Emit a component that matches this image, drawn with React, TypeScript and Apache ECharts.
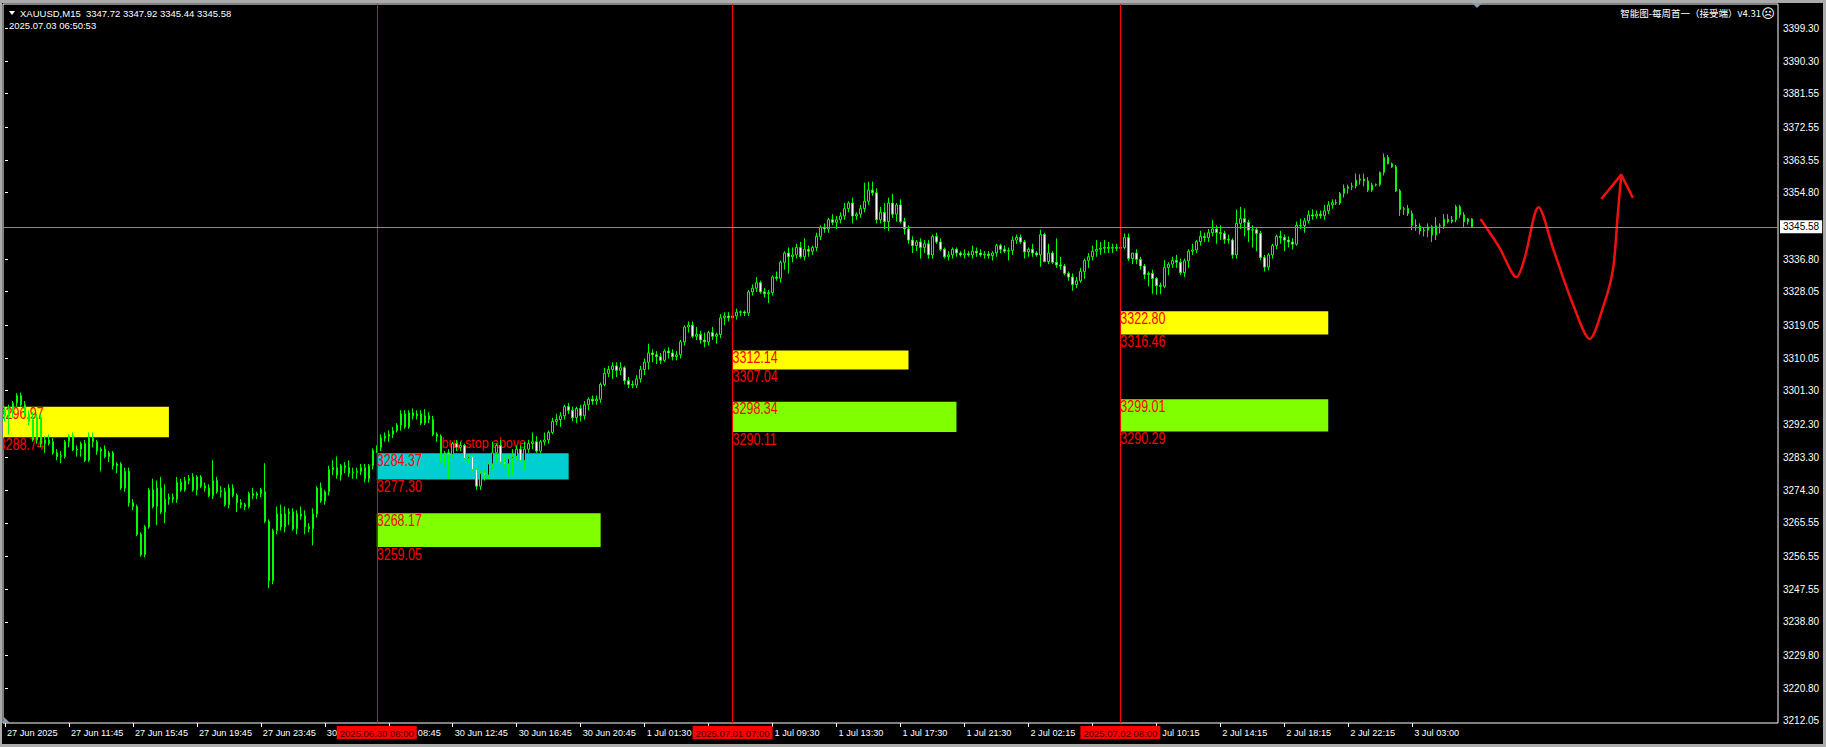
import React, { useEffect, useRef } from 'react';
import * as echarts from 'echarts';

// ---------- data (M15 candles, index 0 = 27 Jun 07:45) ----------
const opens = [
  3296, 3294.5, 3296, 3298, 3300, 3297.5, 3295, 3293.5, 3288, 3294,
  3287, 3288, 3287.5, 3284.5, 3283.5, 3283.5, 3287.5, 3289, 3285.3, 3285.5,
  3287, 3282.5, 3288.5, 3287.5, 3285, 3285.5, 3283.5, 3284.5, 3281, 3281.5,
  3275, 3279.5, 3271, 3270, 3262.5, 3257, 3264.5, 3274.5, 3270, 3275,
  3268.5, 3272, 3272.5, 3272, 3276.5, 3274.5, 3277, 3278, 3274.5, 3278,
  3275.5, 3275, 3273, 3277, 3274, 3274, 3270.5, 3275, 3273, 3271,
  3270.5, 3270, 3273.5, 3273, 3273.5, 3274, 3266, 3250, 3263.5, 3268,
  3264.5, 3268, 3268.5, 3264, 3268, 3267.5, 3264.5, 3264, 3268, 3275,
  3271.5, 3274, 3280, 3280.5, 3278.5, 3281, 3280.5, 3279, 3279.2, 3279.5,
  3280.5, 3277.5, 3281, 3285.2, 3286, 3288.5, 3289, 3289.5, 3290.5, 3292,
  3295, 3291.5, 3295.3, 3294.5, 3295, 3292.5, 3294.5, 3293.5, 3289.5, 3289,
  3282.6, 3284.5, 3284, 3287, 3286, 3286.5, 3283, 3283.5, 3280, 3275.5,
  3279, 3278.5, 3281.5, 3284.5, 3286.5, 3282, 3281.5, 3283, 3283.5, 3285.5,
  3282.5, 3285.5, 3287, 3287.5, 3285, 3287.5, 3288, 3290, 3293, 3293.5,
  3294.5, 3297, 3296, 3294, 3296.5, 3294.5, 3297.5, 3299, 3298.5, 3299,
  3303, 3306, 3307, 3308, 3306.8, 3307.5, 3304, 3303, 3302.8, 3304.5,
  3307, 3309, 3311.5, 3311, 3310.5, 3309.5, 3312, 3311.5, 3310.5, 3311,
  3314.5, 3318.5, 3319, 3316, 3316.5, 3315, 3314.5, 3317, 3316, 3316.5,
  3321, 3321.5, 3321, 3321.5, 3322.5, 3322.6, 3322.3, 3328, 3329, 3330.5,
  3328, 3327.5, 3327.8, 3332, 3331.7, 3336, 3338.5, 3337.5, 3338, 3340,
  3337.5, 3339.5, 3339, 3340, 3343, 3345.5, 3345, 3347.5, 3346.8, 3347.5,
  3348.5, 3350.5, 3352, 3348.5, 3349, 3350.5, 3352.5, 3355.5, 3354.8, 3347.5,
  3349.5, 3347, 3352, 3349, 3351.5, 3347, 3345, 3342, 3340.5, 3341.5,
  3340, 3341, 3338, 3343, 3341.5, 3339.5, 3337.5, 3338, 3339.5, 3338.5,
  3338, 3338.3, 3338, 3339, 3338.5, 3338, 3338.2, 3337.8, 3338.5, 3340.5,
  3339.5, 3339, 3339.2, 3342, 3342.7, 3341.5, 3338.8, 3339.5, 3338.5, 3338,
  3343.5, 3336.2, 3338.5, 3336, 3335.3, 3335, 3333, 3332, 3330, 3331,
  3333.5, 3336.5, 3337.5, 3339, 3339.5, 3339.8, 3340, 3339.8, 3340, 3339.8,
  3340, 3342.7, 3337, 3338.5, 3336.8, 3335, 3332.7, 3333, 3331.6, 3329.7,
  3329.5, 3334.6, 3335.5, 3336.5, 3336, 3333.2, 3336.4, 3339, 3339.3, 3341.6,
  3343, 3342.7, 3344, 3345, 3344, 3343.8, 3342.2, 3342, 3338, 3346.5,
  3347.8, 3346.8, 3344.7, 3344.8, 3343.8, 3337.3, 3334.7, 3338, 3340.5, 3343,
  3342.7, 3342, 3341.5, 3340.9, 3346, 3345.9, 3347.2, 3348.8, 3348.5, 3349,
  3348.6, 3349.9, 3351.5, 3352.1, 3352, 3354.6, 3356, 3356.4, 3356.6, 3358.2,
  3358.5, 3358, 3355.5, 3356.9, 3357, 3360.3, 3364.3, 3362.6, 3361.8, 3355.3,
  3350.3, 3350.5, 3349.2, 3346, 3345.8, 3344.5, 3344.7, 3345.6, 3343.4, 3345.9,
  3345.8, 3347.6, 3347, 3347.5, 3351, 3348.8, 3347, 3347.72,
];
const highs = [
  3297, 3297.5, 3298.5, 3300.6, 3300.8, 3298.5, 3296, 3295.5, 3295, 3295,
  3289, 3289.5, 3288.5, 3285.5, 3285, 3288, 3289.5, 3290, 3286.5, 3287.5,
  3288, 3290, 3290, 3288, 3286, 3286.5, 3285, 3285, 3282, 3282,
  3280.5, 3280.5, 3272, 3270.5, 3263, 3265, 3275, 3277.5, 3277, 3278,
  3276, 3273.5, 3273.5, 3278, 3277.5, 3278, 3278.5, 3279, 3278.5, 3278.5,
  3276.5, 3276, 3282.5, 3278, 3275.5, 3275, 3276, 3276, 3273.5, 3272,
  3271, 3274, 3275, 3274, 3275, 3281.7, 3266.5, 3264, 3270, 3270.5,
  3270, 3269.5, 3269.5, 3269, 3270, 3269, 3265.5, 3269.5, 3275.5, 3276.5,
  3274.5, 3281, 3282.5, 3283.5, 3281.5, 3282, 3282.5, 3280.5, 3280.5, 3281.5,
  3281.5, 3281.5, 3285.7, 3286.5, 3289.5, 3290, 3290.5, 3291.5, 3292.5, 3296,
  3296, 3296, 3296.5, 3296, 3296, 3296.3, 3295.5, 3294.5, 3290, 3289.5,
  3285, 3285.5, 3287.5, 3288, 3287.5, 3287, 3284, 3284, 3280.5, 3279.5,
  3280, 3282, 3287.5, 3287, 3288, 3283.5, 3284, 3285.5, 3286.5, 3286.5,
  3287.5, 3288, 3290, 3289, 3288, 3290, 3290.5, 3294, 3295, 3295.5,
  3297.5, 3298, 3297, 3297, 3297.5, 3298.5, 3299.5, 3300, 3300, 3303.5,
  3307.5, 3308, 3309, 3309, 3309, 3308, 3305, 3304, 3305.5, 3308,
  3310, 3314, 3312.5, 3312, 3311.5, 3312.5, 3313, 3312.5, 3312, 3315,
  3319, 3320, 3320, 3318.5, 3317.5, 3317, 3317.5, 3318.5, 3317, 3322,
  3322.5, 3322.5, 3322, 3323.5, 3323, 3323, 3328.5, 3330, 3332, 3331,
  3329, 3328.5, 3332.5, 3333.5, 3336.5, 3339, 3340, 3340, 3341, 3341.5,
  3342.5, 3340.5, 3340.5, 3344, 3346, 3346.5, 3348, 3349, 3348.5, 3349.5,
  3352, 3352.5, 3353.5, 3349.5, 3351.5, 3357.5, 3357.8, 3357.8, 3356, 3351,
  3352, 3353.5, 3354.5, 3352, 3353, 3348, 3346, 3343, 3342, 3342.5,
  3342, 3342, 3343.5, 3344, 3342.5, 3340, 3339, 3340, 3340, 3339,
  3339.5, 3339, 3340.5, 3340, 3339.5, 3339, 3339, 3339, 3341, 3341,
  3340.5, 3340, 3343, 3343.5, 3343.5, 3342, 3340, 3341, 3339, 3344.8,
  3344, 3341, 3339, 3342.5, 3337.5, 3335.5, 3333.5, 3333, 3332, 3334.5,
  3337, 3338.5, 3340.5, 3342, 3341.5, 3342, 3341.5, 3341, 3341, 3340.5,
  3343.8, 3343.8, 3338.5, 3339.5, 3337.5, 3335.5, 3333.5, 3334, 3332, 3330.5,
  3336.6, 3336, 3337.5, 3338, 3337, 3337, 3339.5, 3341, 3342, 3344.5,
  3344, 3345, 3347.5, 3346, 3346, 3344.5, 3343.5, 3342.5, 3350.3, 3351,
  3350.5, 3347.5, 3346, 3345.5, 3344.5, 3338, 3338.5, 3341, 3343.5, 3344.5,
  3343.5, 3343, 3342.5, 3347, 3347.8, 3348, 3350, 3350.3, 3350, 3350,
  3351.5, 3352.5, 3353, 3353, 3355, 3357, 3357, 3357.5, 3360, 3359.8,
  3360, 3359, 3357.5, 3357.3, 3360.5, 3365.4, 3365, 3363, 3362.3, 3355.8,
  3351, 3351.5, 3350, 3347.6, 3346.5, 3345.5, 3346.5, 3346, 3348.2, 3346.5,
  3349, 3349, 3348.5, 3351.5, 3351.5, 3349.5, 3348, 3347.92,
];
const lows = [
  3293, 3289.5, 3294, 3297, 3297, 3294.5, 3292, 3287.5, 3287, 3286,
  3284.5, 3286.5, 3284, 3282.5, 3281.7, 3283, 3286, 3285, 3283.5, 3283.5,
  3282, 3282, 3286, 3284, 3279.5, 3283, 3282, 3280, 3279, 3274.5,
  3274, 3270, 3269, 3262, 3256.5, 3256.3, 3264, 3269.5, 3265, 3268,
  3265.5, 3270.5, 3271, 3271, 3274, 3274, 3276, 3274, 3273, 3275,
  3274, 3272.5, 3272, 3273.5, 3272.5, 3270, 3269.5, 3272.5, 3268.5, 3269.5,
  3269, 3269.5, 3272, 3272, 3272.5, 3265.5, 3247.9, 3249, 3262.5, 3263.5,
  3263, 3265, 3263.5, 3262.5, 3266.5, 3262.5, 3263, 3259.5, 3267, 3271,
  3270.5, 3273, 3278.5, 3277.5, 3277, 3279, 3278, 3277.5, 3277.5, 3278.5,
  3276.5, 3276.5, 3280, 3284.5, 3285, 3287.5, 3287.5, 3288.5, 3290, 3290.5,
  3291, 3291, 3293.5, 3293.5, 3292, 3292, 3292.5, 3289, 3287.5, 3282,
  3281, 3277.5, 3283, 3285, 3285, 3282.5, 3281.5, 3279.5, 3274.5, 3274.5,
  3277, 3277.5, 3280, 3282, 3281.5, 3280.5, 3278, 3278.5, 3282.5, 3282,
  3280, 3284.5, 3285.5, 3284.5, 3284.5, 3286.5, 3287, 3289.5, 3292, 3291.5,
  3293.5, 3295, 3293, 3292.5, 3293, 3293.5, 3296, 3297.5, 3297.5, 3298,
  3302.5, 3305, 3304.5, 3305, 3305.5, 3303, 3302, 3302, 3302, 3303.5,
  3305.5, 3307, 3309, 3308.5, 3308.5, 3309, 3310, 3309.5, 3309.5, 3310,
  3313.5, 3317, 3315.5, 3315, 3314, 3313, 3313.5, 3315, 3314, 3315.5,
  3319, 3320, 3320, 3320.5, 3321.5, 3321.5, 3321.5, 3327, 3328, 3327.5,
  3326.5, 3325, 3327, 3331, 3330.5, 3334, 3333, 3336, 3337, 3337,
  3336.5, 3337.5, 3338, 3339, 3342, 3344, 3344, 3346, 3345, 3346.5,
  3347.5, 3349.5, 3346.5, 3347.5, 3348, 3349.5, 3351.5, 3354, 3346.5, 3346.5,
  3345, 3344.5, 3348, 3347, 3346.5, 3343.5, 3341, 3338.5, 3339, 3337,
  3338.5, 3337, 3337, 3341, 3339, 3337, 3336.5, 3337, 3337.5, 3337.5,
  3337, 3337.5, 3337, 3337.5, 3337.5, 3337, 3337, 3336.5, 3337.5, 3338.5,
  3338.5, 3336.5, 3338, 3341, 3341, 3337, 3337.5, 3337.5, 3337.5, 3334.8,
  3336, 3335.5, 3335.5, 3334.5, 3334, 3332.5, 3331, 3328.3, 3329, 3330.5,
  3331.5, 3334.5, 3336.5, 3337.5, 3338, 3338.5, 3338.5, 3338.5, 3339, 3339,
  3339.5, 3336.4, 3335.5, 3335.5, 3334, 3331.5, 3329.5, 3327.5, 3327.2, 3327.4,
  3329, 3332.5, 3334.5, 3334.5, 3332.5, 3332, 3334.5, 3338, 3338.5, 3340.5,
  3341.5, 3341.5, 3343, 3341, 3342, 3341, 3341, 3337, 3337, 3345,
  3343, 3341.5, 3340, 3339, 3336.5, 3333.5, 3333.8, 3337, 3339.5, 3341,
  3339, 3340, 3339.5, 3340.5, 3345, 3344, 3346.5, 3347.5, 3347.8, 3347.8,
  3347.5, 3349, 3350.5, 3351.5, 3351.5, 3353.5, 3354.5, 3355.5, 3356, 3357,
  3356.5, 3355, 3355, 3356.5, 3356.5, 3359.5, 3362.5, 3361.5, 3355, 3348.5,
  3348.8, 3348.5, 3344.7, 3344.5, 3343.5, 3343, 3342.8, 3341.5, 3342, 3343.8,
  3345, 3346.5, 3346.5, 3346.8, 3348, 3345.5, 3346.2, 3345.44,
];
const closes = [
  3294.5, 3296.5, 3298, 3300, 3297.5, 3295, 3293, 3288, 3294, 3287,
  3288, 3287, 3284.5, 3283.5, 3283.8, 3287.5, 3289, 3285.3, 3285.5, 3287,
  3282.5, 3288.5, 3287.5, 3285, 3285.5, 3283.5, 3284.5, 3281, 3281.5, 3275,
  3279.5, 3271, 3270, 3262.5, 3257, 3264.5, 3274.5, 3270, 3275, 3268.5,
  3272, 3272.5, 3272, 3276.5, 3274.5, 3277, 3277.5, 3274.5, 3278, 3275.5,
  3275, 3273, 3277, 3274, 3274.3, 3270.5, 3275, 3273, 3271, 3270.5,
  3270, 3273.5, 3273, 3273.5, 3274.5, 3266, 3250, 3263.5, 3268, 3264.5,
  3268, 3268.5, 3264, 3268, 3267.5, 3264.5, 3264, 3268, 3275, 3271.5,
  3274, 3280, 3280.5, 3278.5, 3281, 3280.5, 3279, 3279.2, 3279.5, 3280.5,
  3277.5, 3281, 3285.2, 3286, 3288.5, 3289, 3289.5, 3290.5, 3292, 3295,
  3291.5, 3295.3, 3294.5, 3295, 3292.5, 3294.5, 3293.5, 3289.5, 3289, 3282.6,
  3284.5, 3284, 3287, 3286, 3286.5, 3283, 3283.5, 3280, 3275.5, 3279,
  3278.5, 3281.5, 3284.5, 3286.5, 3282, 3281.5, 3283, 3283.5, 3285.5, 3282.5,
  3285.5, 3287, 3287.5, 3285, 3287.5, 3288, 3290, 3293, 3293.5, 3294.5,
  3297, 3296, 3294, 3296.5, 3294.5, 3297.5, 3299, 3298.5, 3299, 3303,
  3306, 3307, 3308, 3306.8, 3307.5, 3304, 3303, 3302.8, 3304.5, 3307,
  3309, 3311.5, 3311, 3310.5, 3309.5, 3312, 3311.5, 3310.5, 3311, 3314.5,
  3318.5, 3319, 3316, 3316.5, 3315, 3314.5, 3317, 3316, 3316.5, 3321,
  3321.5, 3321, 3321.5, 3322.5, 3322.6, 3322.3, 3328, 3329, 3330.5, 3328,
  3327.5, 3327.8, 3332, 3331.7, 3336, 3338.5, 3337.5, 3338, 3340, 3337.5,
  3339.5, 3339, 3340, 3343, 3345.5, 3345, 3347.5, 3346.8, 3347.5, 3348.5,
  3350.5, 3352, 3348.5, 3349, 3350.5, 3352.5, 3355.5, 3354.8, 3347.5, 3349.5,
  3347, 3352, 3349, 3351.5, 3347, 3345, 3342, 3340.5, 3341.5, 3340,
  3341, 3338, 3343, 3341.5, 3339.5, 3337.5, 3338, 3339.5, 3338.5, 3338,
  3338.3, 3338, 3339, 3338.5, 3338, 3338.2, 3337.8, 3338.5, 3340.5, 3339.5,
  3339, 3339.2, 3342, 3342.7, 3341.5, 3338.8, 3339.5, 3338.5, 3338, 3343.5,
  3336.2, 3338.5, 3336, 3335.3, 3335, 3333, 3332, 3330, 3331, 3333.5,
  3336.5, 3337.5, 3339, 3339.5, 3339.8, 3340, 3339.8, 3340, 3339.8, 3340,
  3342.7, 3337, 3338.5, 3336.8, 3335, 3332.7, 3333, 3331.6, 3329.7, 3329.5,
  3334.6, 3335.5, 3336.5, 3336, 3333.2, 3336.4, 3339, 3339.3, 3341.6, 3343,
  3342.7, 3344, 3345, 3344, 3343.8, 3342.2, 3342, 3338, 3346.5, 3347.8,
  3346.8, 3344.7, 3344.8, 3343.8, 3337.3, 3334.7, 3338, 3340.5, 3343, 3342.7,
  3342, 3341.5, 3340.9, 3346, 3345.9, 3347.2, 3348.8, 3348.5, 3349, 3348.6,
  3349.9, 3351.5, 3352.1, 3352, 3354.6, 3356, 3356.4, 3356.6, 3358.2, 3358.5,
  3358, 3355.5, 3356.9, 3357, 3360.3, 3364.3, 3362.6, 3361.8, 3355.3, 3350.3,
  3350.5, 3349.2, 3346, 3345.8, 3344.5, 3344.7, 3345.6, 3343.4, 3345.9, 3345.8,
  3347.6, 3347, 3347.5, 3351, 3348.8, 3347, 3347.72, 3345.58,
];

// tick labels every 16 bars, as visible beside the red time markers ('' = fully covered)
const xTickLabels = [
  '27 Jun 2025', '27 Jun 11:45', '27 Jun 15:45', '27 Jun 19:45', '27 Jun 23:45',
  '30', '08:45', '30 Jun 12:45', '30 Jun 16:45', '30 Jun 20:45',
  '1 Jul 01:30', '', '1 Jul 09:30', '1 Jul 13:30', '1 Jul 17:30',
  '1 Jul 21:30', '2 Jul 02:15', '', 'Jul 10:15', '2 Jul 14:15',
  '2 Jul 18:15', '2 Jul 22:15', '3 Jul 03:00',
];
// extra left offset (px) of the partly covered labels
const xTickShift = [0, 0, 0, 0, 0, 0, 27, 0, 0, 0, 0, 0, 0, 0, 0, 0, 0, 0, 4, 0, 0, 0, 0];
const yTickValues = [
  3212.05, 3220.8, 3229.8, 3238.8, 3247.55, 3256.55, 3265.55, 3274.3, 3283.3,
  3292.3, 3301.3, 3310.05, 3319.05, 3328.05, 3336.8, 3354.8, 3363.55, 3372.55,
  3381.55, 3390.3, 3399.3,
];
const currentPrice = 3345.58;

const zoneX1 = [-1.6, 93, 93, 182, 182, 279, 279];
const zoneX2 = [41, 141, 149, 226, 238, 331, 331];
const zoneTop = [3296.97, 3284.37, 3268.17, 3312.14, 3298.34, 3322.8, 3299.01];
const zoneBottom = [3288.74, 3277.3, 3259.05, 3307.04, 3290.11, 3316.46, 3290.29];
const zoneColors = ['#FFFF00', '#00CED1', '#7FFF00', '#FFFF00', '#7FFF00', '#FFFF00', '#7FFF00'];

const vLineIndex = [93, 182, 279];
const vLineLabels = ['2025.06.30 08:00', '2025.07.01 07:00', '2025.07.02 08:00'];

const noteText = 'buy stop above';
const notePos = [109.2, 3285.0];

const arrowPath = [
  [369.1, 3347.7], [373.7, 3340.2], [378.1, 3332.0], [380.1, 3337.0], [383.6, 3350.9],
  [387.4, 3339.2], [392.3, 3324.4], [396.4, 3315.3], [399.9, 3324.4], [402.2, 3333.9],
  [403.4, 3348.7], [404.3, 3359.7],
];
const arrowHead = [[399.3, 3353.1], [404.3, 3359.7], [407.2, 3353.4]];

const headerSymbol = 'XAUUSD,M15';
const headerOHLC = '3347.72 3347.92 3345.44 3345.58';
const headerTime = '2025.07.03 06:50:53';
const indicatorTitle = '智能图-每周首一（接受端）v4.31';

const TOTAL_SLOTS = 444;
const Y_MIN = 3211.5;
const Y_MAX = 3405.8;
const FONT = '"Liberation Sans", Arial, sans-serif';

export default function App() {
  const ref = useRef<HTMLDivElement>(null);

  useEffect(() => {
    if (!ref.current) return;
    const chart = echarts.init(ref.current, null, { renderer: 'svg' });

    const categories = Array.from({ length: TOTAL_SLOTS }, (_, i) => String(i));
    const candleData = opens.map((o, i) => [o, closes[i], lows[i], highs[i]]);
    const zoneData = zoneX1.map((x1, i) => [x1, zoneX2[i], zoneTop[i], zoneBottom[i], i]);
    const tickShown = (idx: number) => idx % 16 === 0 && idx / 16 < xTickLabels.length;
    const labelShown = (idx: number) => tickShown(idx) && xTickLabels[idx / 16] !== '';

    const richStyles: any = {};
    xTickShift.forEach((s) => {
      if (s > 0) richStyles['s' + s] = { padding: [0, 0, 0, s] };
    });

    const labelText = (text: string, x: number, y: number, size: number, sx: number, va: string) => ({
      type: 'text',
      x,
      y,
      scaleX: sx,
      style: {
        text,
        fill: '#FF0000',
        font: `${size}px ${FONT}`,
        align: 'left',
        verticalAlign: va,
        textAlign: 'left',
        textVerticalAlign: va,
      },
    });

    const option: any = {
      animation: false,
      backgroundColor: '#000000',
      grid: {
        left: 3,
        top: 4,
        right: 48,
        bottom: 24,
        show: true,
        borderColor: '#FFFFFF',
        borderWidth: 1,
        backgroundColor: 'transparent',
      },
      xAxis: [
        {
          type: 'category',
          data: categories,
          boundaryGap: true,
          axisLine: { show: false },
          splitLine: { show: false },
          axisTick: {
            show: true,
            alignWithLabel: true,
            interval: (idx: number) => tickShown(idx),
            length: 4,
            lineStyle: { color: '#FFFFFF' },
          },
          axisLabel: {
            interval: (idx: number) => labelShown(idx),
            formatter: (_v: string, idx: number) => {
              const k = idx / 16;
              const t = xTickLabels[k] || '';
              const s = xTickShift[k] || 0;
              return s > 0 ? `{s${s}|${t}}` : t;
            },
            rich: richStyles,
            color: '#FFFFFF',
            fontSize: 9.2,
            fontFamily: FONT,
            align: 'left',
            margin: 5,
            padding: [0, 0, 0, 2],
          },
        },
        { type: 'value', min: -0.5, max: TOTAL_SLOTS - 0.5, show: false },
      ],
      yAxis: {
        type: 'value',
        position: 'right',
        min: Y_MIN,
        max: Y_MAX,
        axisLine: { show: false },
        splitLine: { show: false },
        axisTick: {
          show: true,
          length: 3,
          customValues: yTickValues,
          lineStyle: { color: '#FFFFFF' },
        },
        axisLabel: {
          customValues: yTickValues,
          formatter: (v: number) => v.toFixed(2),
          color: '#FFFFFF',
          fontSize: 10,
          fontFamily: FONT,
          margin: 5,
        },
      },
      series: [
        {
          type: 'custom',
          name: 'zones',
          xAxisIndex: 1,
          yAxisIndex: 0,
          clip: true,
          silent: true,
          z: 1,
          data: zoneData,
          renderItem: (_p: any, api: any) => {
            const i = api.value(4);
            const p1 = api.coord([api.value(0), api.value(2)]);
            const p2 = api.coord([api.value(1), api.value(3)]);
            return {
              type: 'group',
              children: [
                {
                  type: 'rect',
                  shape: { x: p1[0], y: p1[1], width: p2[0] - p1[0], height: p2[1] - p1[1] },
                  style: { fill: zoneColors[i] },
                },
                labelText(zoneTop[i].toFixed(2), p1[0], p1[1] - 1, 16, 0.78, 'top'),
                labelText(zoneBottom[i].toFixed(2), p1[0], p2[1] - 1, 16, 0.78, 'top'),
              ],
            };
          },
        },
        {
          type: 'custom',
          name: 'note',
          xAxisIndex: 1,
          yAxisIndex: 0,
          clip: true,
          silent: true,
          z: 1,
          data: [[notePos[0], notePos[1]]],
          renderItem: (_p: any, api: any) => {
            const p = api.coord([api.value(0), api.value(1)]);
            return labelText(noteText, p[0], p[1], 15, 0.83, 'bottom');
          },
        },
        {
          type: 'candlestick',
          name: 'XAUUSD',
          xAxisIndex: 0,
          yAxisIndex: 0,
          data: candleData,
          barWidth: 2,
          silent: true,
          z: 2,
          itemStyle: {
            color: '#000000',
            color0: '#FFFFFF',
            borderColor: '#00FF00',
            borderColor0: '#00FF00',
            borderColorDoji: '#00FF00',
            borderWidth: 1,
          },
        },
        {
          type: 'line',
          name: 'arrow',
          xAxisIndex: 1,
          yAxisIndex: 0,
          data: arrowPath,
          smooth: 0.3,
          symbol: 'none',
          silent: true,
          z: 3,
          lineStyle: { color: '#F01010', width: 2.5 },
          markLine: {
            silent: true,
            symbol: 'none',
            animation: false,
            data: [
              ...vLineIndex.map((x, k) => ({
                xAxis: x,
                lineStyle: { color: '#FF0000', width: 1, type: 'solid' },
                label: {
                  show: true,
                  position: 'start',
                  formatter: vLineLabels[k],
                  backgroundColor: '#FF0000',
                  color: '#3A0000',
                  fontSize: 9.5,
                  fontFamily: FONT,
                  padding: [2, 3, 1, 3],
                  distance: 3,
                },
              })),
              {
                yAxis: currentPrice,
                lineStyle: { color: '#8A8A8A', width: 1, type: 'solid' },
                label: {
                  show: true,
                  position: 'end',
                  formatter: currentPrice.toFixed(2),
                  backgroundColor: '#FFFFFF',
                  color: '#000000',
                  fontSize: 10,
                  fontFamily: FONT,
                  padding: [2, 3, 1, 3],
                  distance: 2,
                },
              },
            ],
          },
        },
        {
          type: 'line',
          name: 'arrowHead',
          xAxisIndex: 1,
          yAxisIndex: 0,
          data: arrowHead,
          symbol: 'none',
          silent: true,
          z: 3,
          lineStyle: { color: '#F01010', width: 2.5 },
        },
      ],
      graphic: [
        { type: 'rect', z: 100, shape: { x: 0, y: 0, width: 1826, height: 3 }, style: { fill: '#ABABAB' } },
        { type: 'rect', z: 100, shape: { x: 0, y: 0, width: 2, height: 747 }, style: { fill: '#ABABAB' } },
        { type: 'rect', z: 100, shape: { x: 1823, y: 0, width: 3, height: 747 }, style: { fill: '#ABABAB' } },
        { type: 'rect', z: 100, shape: { x: 0, y: 744, width: 1826, height: 3 }, style: { fill: '#ABABAB' } },
        { type: 'polygon', z: 101, shape: { points: [[1472, 3], [1482, 3], [1477, 8]] }, style: { fill: '#8C9AB0' } },
        { type: 'polygon', z: 101, shape: { points: [[4, 717], [4, 723], [10, 723]] }, style: { fill: '#8C9AB0' } },
        { type: 'polygon', z: 101, shape: { points: [[9, 11], [15, 11], [12, 15]] }, style: { fill: '#FFFFFF' } },
        {
          type: 'text', z: 101, x: 20, y: 13,
          style: { text: headerSymbol + '  ' + headerOHLC, fill: '#FFFFFF', font: `9.5px ${FONT}`, textVerticalAlign: 'middle', verticalAlign: 'middle' },
        },
        {
          type: 'text', z: 101, x: 9, y: 25,
          style: { text: headerTime, fill: '#FFFFFF', font: `9.5px ${FONT}`, textVerticalAlign: 'middle', verticalAlign: 'middle' },
        },
        {
          type: 'text', z: 101, x: 1761, y: 13,
          style: {
            text: indicatorTitle, fill: '#FFFFFF', font: '9.5px "Noto Sans CJK SC", sans-serif',
            textAlign: 'right', align: 'right', textVerticalAlign: 'middle', verticalAlign: 'middle',
          },
        },
        {
          type: 'text', z: 101, x: 1768, y: 13,
          style: {
            text: '☹', fill: '#FFFFFF', font: '13px "DejaVu Sans", sans-serif',
            textAlign: 'center', align: 'center', textVerticalAlign: 'middle', verticalAlign: 'middle',
          },
        },
      ],
    };

    chart.setOption(option);
    return () => chart.dispose();
  }, []);

  return (
    <div
      ref={ref}
      style={{ position: 'fixed', left: 0, top: 0, width: 1826, height: 747, background: '#000' }}
    />
  );
}
